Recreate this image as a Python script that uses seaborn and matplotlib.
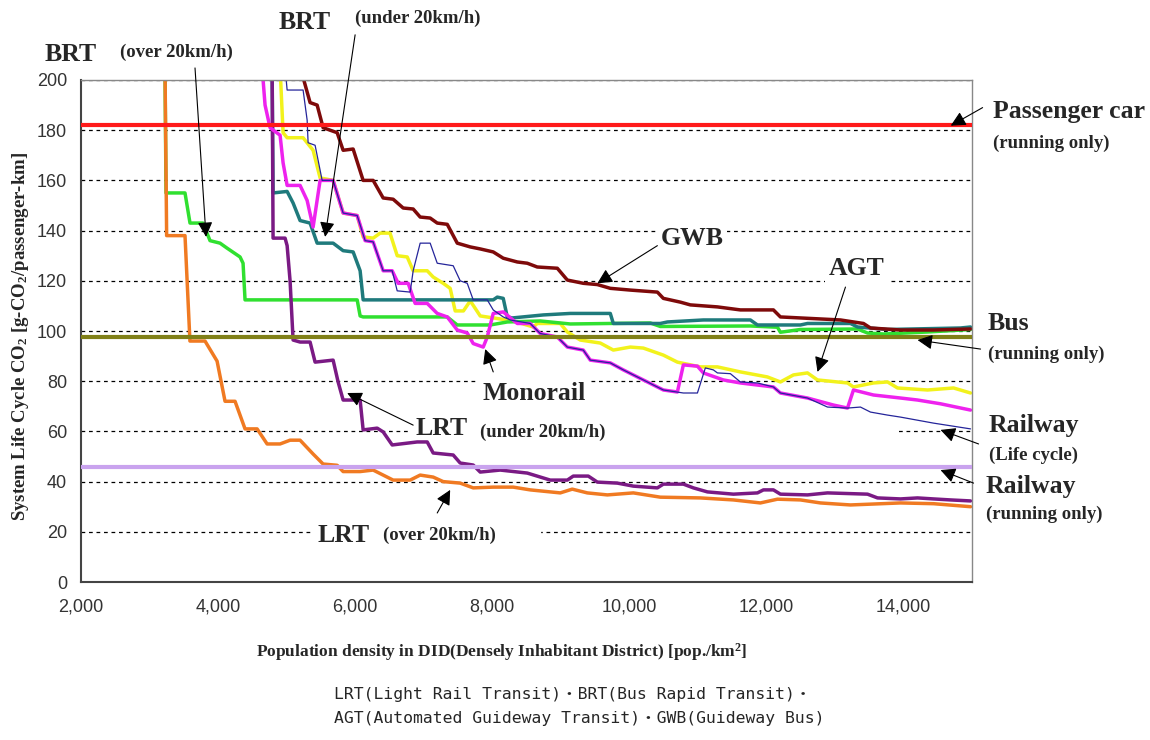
import matplotlib
matplotlib.use('Agg')
import matplotlib.pyplot as plt
from matplotlib.ticker import FuncFormatter
import seaborn as sns
import pandas as pd

# LRT (over 20km/h) - orange
lrt_fast_x = [3226, 3250, 3518, 3590, 3810, 3986, 4102, 4248, 4394, 4570,
              4716, 4905, 5051, 5197, 5387, 5533, 5738, 5825, 6073, 6263,
              6555, 6803, 6949, 7139, 7285, 7533, 7723, 8015, 8307, 8555,
              8993, 9168, 9388, 9680, 10059, 10453, 11037, 11519, 11913, 12162,
              12497, 12789, 13227, 13957, 14439, 14979]
lrt_fast_y = [205, 138, 138, 96, 96, 88, 72, 72, 61, 61,
              55, 55, 56.5, 56.5, 51, 47, 46.5, 44, 44, 44.6,
              40.6, 40.6, 42.6, 41.8, 40, 39.4, 37.5, 37.8, 37.8, 36.7,
              35.5, 37, 35.5, 34.7, 35.5, 33.8, 33.5, 32.7, 31.5, 33,
              32.7, 31.5, 30.7, 31.5, 31.2, 30]

# LRT (under 20km/h) - purple
lrt_slow_x = [4789, 4803, 4978, 5008, 5051, 5095, 5197, 5343, 5416, 5679,
              5752, 5825, 6073, 6117, 6322, 6409, 6541, 6906, 7052, 7139,
              7431, 7533, 7723, 7825, 8117, 8512, 8847, 9096, 9183, 9402,
              9534, 9826, 10059, 10410, 10497, 10789, 10935, 11140, 11519, 11870,
              11957, 12103, 12205, 12600, 12892, 13476, 13622, 13957, 14206, 14439,
              14687, 14979]
lrt_slow_y = [205, 137, 137, 134, 120, 96.4, 95.6, 95.6, 87.6, 88.4,
              79.7, 72.5, 72.5, 60.6, 61.3, 59.8, 54.6, 55.8, 55.8, 51.4,
              50.6, 47.4, 46.6, 43.8, 44.6, 43.4, 40.6, 40.6, 42.2, 42.2,
              39.8, 39.4, 38.2, 37.5, 39, 39, 37.5, 35.9, 35, 35.5,
              36.7, 36.7, 35, 34.7, 35.5, 35, 33.5, 33.1, 33.5, 33.1,
              32.7, 32.3]

# BRT (over 20km/h) - green
brt_fast_x = [3226, 3241, 3518, 3591, 3781, 3883, 4029, 4132, 4321, 4365,
              4394, 6030, 6073, 6117, 7344, 7490, 7971, 8220, 8701, 9139,
              10307, 10453, 11767, 12162, 12205, 12497, 13330, 13476, 13709, 14352,
              14979]
brt_fast_y = [205, 155, 155, 143, 143, 136, 135, 133, 129.5, 127,
              112.4, 112.4, 106, 105.6, 105.6, 102.4, 102.4, 103.6, 104, 102.8,
              103.2, 101.8, 102, 101.5, 99.5, 100.6, 100.8, 99.2, 98.8, 99.6,
              100.6]

# BRT (under 20km/h) - teal
brt_slow_x = [4789, 4803, 5008, 5095, 5197, 5343, 5446, 5679, 5825, 5971,
              6073, 6117, 8015, 8074, 8161, 8220, 8293, 8745, 9139, 9723,
              9767, 10453, 10556, 11081, 11767, 11870, 12497, 12600, 13227, 13330,
              13768, 14833, 14979]
brt_slow_y = [205, 155, 155.6, 151, 144, 143, 135, 135, 132, 131.5,
              124, 112.4, 112.4, 113.5, 113, 105.6, 105.2, 106.4, 107, 107,
              103, 103, 103.6, 104.4, 104.4, 102.4, 102.4, 103, 103, 101.6,
              100.6, 101.2, 101.6]

# Monorail - magenta
mono_x = [4643, 4686, 4759, 4905, 4949, 5008, 5197, 5300, 5387, 5489,
          5679, 5825, 6030, 6146, 6263, 6409, 6541, 6628, 6774, 6876,
          7052, 7198, 7344, 7490, 7636, 7723, 7869, 7928, 8015, 8161,
          8366, 8555, 8701, 8950, 9096, 9329, 9431, 9723, 9913, 10205,
          10497, 10702, 10789, 10994, 11081, 11373, 11621, 12103, 12205, 12600,
          12979, 13184, 13271, 13563, 13957, 14206, 14541, 14979]
mono_y = [205, 190, 181, 178, 167, 158, 158, 152, 141.4, 160,
          160, 147, 146, 136, 135.5, 124, 124, 119, 119, 111,
          111, 107, 105.6, 100.4, 99.2, 95, 93.6, 97.6, 107, 107.6,
          103, 103, 99, 97.6, 93.6, 92.4, 88.4, 87.3, 84.5, 80.5,
          76.5, 75.7, 86.5, 86, 83.3, 80.5, 79.3, 77.7, 75.3, 73.3,
          70.5, 69.3, 76.5, 74.5, 73.3, 72.5, 71, 68.5]

# AGT - yellow
agt_x = [4905, 4949, 5008, 5241, 5387, 5489, 5679, 5825, 6030, 6117,
         6263, 6365, 6509, 6614, 6760, 6847, 7052, 7139, 7285, 7387,
         7460, 7580, 7680, 7825, 8307, 8599, 8657, 8993, 9096, 9285,
         9577, 9767, 10015, 10205, 10497, 10702, 11037, 11286, 11621, 12015,
         12205, 12395, 12600, 12746, 13184, 13271, 13563, 13768, 13914, 14352,
         14731, 14979]
agt_y = [205, 179, 177, 177, 172, 161, 160, 147, 146, 137.5,
         137, 139, 139, 130, 129.5, 124, 124, 121.5, 119, 117,
         108, 108, 112, 106, 104, 101.6, 103, 103, 99.6, 96.4,
         95.2, 92.4, 93.6, 93.2, 90.4, 87.6, 85.7, 85.7, 83.7, 81.7,
         79.7, 82.5, 83.3, 80.5, 79.3, 77.7, 79.3, 79.7, 77.3, 76.5,
         77.3, 75.3]

# GWB - maroon
gwb_x = [5200, 5343, 5446, 5533, 5738, 5825, 5971, 6117, 6263, 6409,
         6555, 6701, 6847, 6949, 7095, 7198, 7344, 7490, 7679, 7825,
         8015, 8161, 8366, 8512, 8657, 8950, 9096, 9329, 9534, 9723,
         10015, 10410, 10497, 10745, 10891, 11286, 11621, 12103, 12205, 12497,
         13081, 13417, 13519, 13957, 14439, 14979]
gwb_y = [205, 191, 190, 181, 179, 172, 172.5, 160, 160, 153,
         152.5, 149, 148.6, 145.4, 145, 143, 142.5, 135, 133.5, 132.7,
         131.5, 129, 127.5, 127, 125.5, 125, 120.3, 119, 118.5, 117,
         116.3, 115.5, 113, 111.5, 110.4, 109.6, 108.4, 108.4, 105.6, 105.2,
         104.4, 103, 101.2, 100.4, 100.4, 100.8]

# Railway (life cycle) - thin blue
rail_lc_x = [4978, 5008, 5241, 5300, 5314, 5416, 5519, 5679, 5825, 6030,
             6146, 6263, 6409, 6541, 6614, 6803, 6847, 6949, 7095, 7198,
             7431, 7533, 7636, 7723, 7928, 8015, 8161, 8263, 8555, 8701,
             8950, 9096, 9329, 9431, 9723, 9913, 10205, 10497, 10789, 10994,
             11110, 11227, 11286, 11475, 11621, 11870, 12103, 12205, 12600, 12892,
             13184, 13373, 13519, 13768, 13957, 14439, 14979]
rail_lc_y = [205, 196, 196, 184, 175, 174, 160, 160, 147, 146,
             136, 135.5, 124, 124, 116, 115.5, 124, 135, 135, 127,
             126, 120, 119, 112.4, 112.4, 108.4, 105.6, 104.4, 103, 99,
             97.6, 93.6, 92.4, 88.4, 87.3, 84.5, 80.5, 76.5, 75.3, 75.3,
             85.3, 84.5, 83.3, 83, 79.7, 79.3, 77.7, 75.3, 73.3, 69.7,
             69.3, 69.7, 67.7, 66.5, 65.7, 63.3, 61]

# running-only reference levels: passenger car, bus, railway
ref_values = [182, 97.5, 45.7]
ref_colors = ['#FF1A1A', '#808018', '#C9A3EE']

x_ticks = [2000, 4000, 6000, 8000, 10000, 12000, 14000]
y_ticks = [0, 20, 40, 60, 80, 100, 120, 140, 160, 180, 200]

caption = ['LRT(Light Rail Transit)\u30fbBRT(Bus Rapid Transit)\u30fb',
           'AGT(Automated Guideway Transit)\u30fbGWB(Guideway Bus)']

sns.set_style('white')
plt.rcParams['font.family'] = ['Liberation Serif', 'DejaVu Serif']
plt.rcParams['mathtext.fontset'] = 'custom'
plt.rcParams['mathtext.rm'] = 'Liberation Serif:bold'
plt.rcParams['mathtext.it'] = 'Liberation Serif:bold'

fig = plt.figure(figsize=(11.5, 7.4), dpi=100)
ax = fig.add_axes([0.0704, 0.2135, 0.7748, 0.6784])

series = [
    (agt_x, agt_y, '#F2F21C', 2.5),
    (brt_fast_x, brt_fast_y, '#30E030', 2.5),
    (brt_slow_x, brt_slow_y, '#1F7A7C', 2.5),
    (lrt_fast_x, lrt_fast_y, '#F07A22', 2.5),
    (lrt_slow_x, lrt_slow_y, '#7A1A84', 2.5),
    (gwb_x, gwb_y, '#7E0A0A', 2.5),
    (mono_x, mono_y, '#EE22EE', 2.5),
    (rail_lc_x, rail_lc_y, '#25259A', 0.9),
]
for xs, ys, col, lw in series:
    df = pd.DataFrame({'x': xs, 'y': ys})
    sns.lineplot(data=df, x='x', y='y', color=col, lw=lw, sort=False,
                 estimator=None, ax=ax, legend=False)

for val, col in zip(ref_values, ref_colors):
    ax.axhline(val, color=col, lw=3, zorder=3)

ax.set_xlim(2000, 15000)
ax.set_ylim(0, 200)
ax.set_xticks(x_ticks)
ax.set_yticks(y_ticks)
ax.xaxis.set_major_formatter(FuncFormatter(lambda v, p: f'{int(v):,}'))
ax.set_axisbelow(True)
ax.yaxis.grid(True, color='black', lw=0.9, linestyle=(0, (3, 3)))
ax.xaxis.grid(False)

for side in ['left', 'bottom']:
    ax.spines[side].set_color('#444444')
    ax.spines[side].set_linewidth(1.5)
for side in ['top', 'right']:
    ax.spines[side].set_color('#888888')
    ax.spines[side].set_linewidth(1.0)

ax.tick_params(axis='both', direction='in', length=5, width=1,
               color='#444444', labelsize=13, labelcolor='#333333')
ax.tick_params(axis='x', pad=12)
ax.tick_params(axis='y', pad=10)
for lab in ax.get_xticklabels() + ax.get_yticklabels():
    lab.set_family(['Liberation Sans Narrow', 'Liberation Sans'])

ax.set_xlabel('Population density in DID(Densely Inhabitant District) [pop./km$^2$]',
              fontsize=12.5, weight='bold')
ax.xaxis.set_label_coords(0.4725, -0.118)
ax.set_ylabel('System Life Cycle CO$_2$ [g-CO$_2$/passenger-km]',
              fontsize=13.5, weight='bold')
ax.yaxis.set_label_coords(-0.068, 0.49)
ax.yaxis.label.set_va('center')

# white patches where the labels interrupt gridlines
ax.axhspan(57.5, 62.5, xmin=0.37, xmax=0.916, color='white', zorder=1)
ax.axhspan(17.5, 22.5, xmin=0.26, xmax=0.515, color='white', zorder=1)

big = dict(fontsize=18.5, weight='bold', va='center', ha='left')
small = dict(fontsize=13.5, weight='bold', va='center', ha='left')
box = dict(boxstyle='square,pad=0.15', fc='white', ec='none')

ax.text(1474, 210, 'BRT', **big)
ax.text(2569, 211, '(over 20km/h)', **small)
ax.text(4876, 223, 'BRT', **big)
ax.text(6000, 224.7, '(under 20km/h)', **small)
ax.text(10453, 137, 'GWB', bbox=box, zorder=1.5, **big)
ax.text(12906, 125, 'AGT', bbox=box, zorder=1.5, **big)
ax.text(7855, 75.3, 'Monorail', bbox=box, zorder=1.5, **big)
ax.text(6876, 61.0, 'LRT', bbox=box, zorder=1.5, **big)
ax.text(7825, 59.8, '(under 20km/h)', bbox=box, zorder=1.5, **small)
ax.text(5446, 18.7, 'LRT', bbox=box, zorder=1.5, **big)
ax.text(6409, 18.7, '(over 20km/h)', bbox=box, zorder=1.5, **small)

ax.text(15301, 187.3, 'Passenger car', **big)
ax.text(15301, 174.9, '(running only)', **small)
ax.text(15228, 102.8, 'Bus', **big)
ax.text(15228, 90.8, '(running only)', **small)
ax.text(15243, 62.2, 'Railway', **big)
ax.text(15243, 50.6, '(Life cycle)', **small)
ax.text(15199, 38.2, 'Railway', **big)
ax.text(15199, 27.1, '(running only)', **small)

arrow = dict(arrowstyle='-|>,head_length=0.6,head_width=0.3', color='black',
             lw=0.8, shrinkA=0, shrinkB=0, mutation_scale=15)
arrows = [
    ((3664, 204.8), (3825, 137.5)),
    ((6000, 218), (5562, 137.5)),
    ((10410, 134), (9534, 119)),
    ((13154, 117.5), (12746, 83.7)),
    ((8015, 83.7), (7898, 92.8)),
    ((6847, 62.5), (5884, 75.3)),
    ((7198, 27.5), (7387, 36.7)),
    ((15155, 189), (14690, 181.8)),
    ((15125, 92.8), (14206, 96.4)),
    ((15096, 55), (14541, 60.6)),
    ((15023, 39.4), (14541, 44.6)),
]
for tail, head in arrows:
    ax.annotate('', xy=head, xytext=tail, arrowprops=arrow,
                annotation_clip=False, zorder=4)

fig.text(0.29, 1 - 695 / 740, caption[0], fontsize=11.8, va='center', ha='left',
         family=['DejaVu Sans Mono', 'Noto Sans CJK JP'])
fig.text(0.29, 1 - 718 / 740, caption[1], fontsize=11.8, va='center', ha='left',
         family=['DejaVu Sans Mono', 'Noto Sans CJK JP'])

plt.savefig('out.png', dpi=100)
